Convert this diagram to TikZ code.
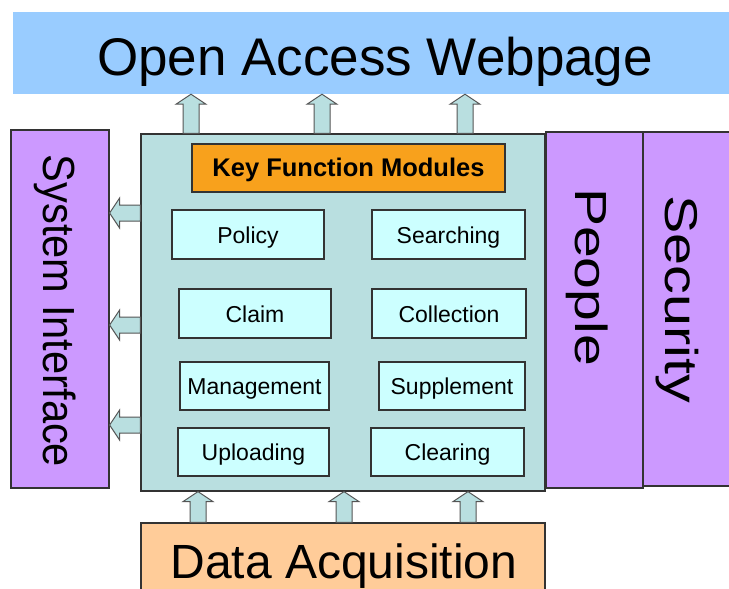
\documentclass[tikz,border=0pt]{standalone}
\usepackage{fontspec}
\setmainfont{Liberation Sans}
\usetikzlibrary{calc}
\definecolor{webblue}{HTML}{99CCFF}
\definecolor{violetbox}{HTML}{CC99FF}
\definecolor{tealbox}{HTML}{B9DFE0}
\definecolor{cyanbox}{HTML}{CCFFFF}
\definecolor{orangebox}{HTML}{F8A11C}
\definecolor{peachbox}{HTML}{FFCC99}
\definecolor{edgegray}{HTML}{333333}
\definecolor{arrowedge}{HTML}{555555}
\tikzset{
  box/.style={draw=edgegray, line width=1.2pt, inner sep=0pt, anchor=center},
  module/.style={box, fill=cyanbox, font=\fontsize{23}{26}\selectfont,
    text height=20.7pt, text depth=3.2pt},
  blockarrow/.style={draw=arrowedge, fill=tealbox, line width=1pt,
    to path={let \p1=(\tikztostart), \p2=(\tikztotarget),
      \n1={atan2(\y2-\y1,\x2-\x1)}, \n2={veclen(\x2-\x1,\y2-\y1)} in
      ([shift={(\p1)},rotate=\n1]0pt,-8pt)
      -- ([shift={(\p1)},rotate=\n1]{\n2-10pt},-8pt)
      -- ([shift={(\p1)},rotate=\n1]{\n2-10pt},-15pt)
      -- ([shift={(\p1)},rotate=\n1]{\n2},0pt)
      -- ([shift={(\p1)},rotate=\n1]{\n2-10pt},15pt)
      -- ([shift={(\p1)},rotate=\n1]{\n2-10pt},8pt)
      -- ([shift={(\p1)},rotate=\n1]0pt,8pt) -- cycle}}
}
\begin{document}
\begin{tikzpicture}[x=1pt,y=-1pt]
\useasboundingbox (0,0) rectangle (729,589);
% big blocks
\node[inner sep=0pt, fill=webblue, minimum width=720pt, minimum height=82pt] (web) at (373,53) {};
\node[inner sep=0pt, anchor=base, font=\fontsize{53}{60}\selectfont] (webtext) at (375,75) {Open Access Webpage};
\node[box, fill=violetbox, minimum width=98pt, minimum height=358pt] (sys) at (60,309) {};
\node[rotate=-90, inner sep=0pt, font=\fontsize{45}{50}\selectfont] (systext) at (55,311)
      {\scalebox{0.925}[1]{System Interface}};
\node[box, fill=tealbox, minimum width=404pt, minimum height=357pt] (main) at (343,312.5) {};
\node[box, fill=violetbox, minimum width=97pt, minimum height=356pt] (people) at (594.5,310) {};
\node[rotate=-90, inner sep=0pt, font=\fontsize{45}{50}\selectfont] (peopletext) at (587,277)
      {\scalebox{1.27}[1]{People}};
\node[box, fill=violetbox, minimum width=90pt, minimum height=354pt] (security) at (688,309) {};
\node[rotate=-90, inner sep=0pt, font=\fontsize{46}{50}\selectfont] (securitytext) at (677,299)
      {\scalebox{1.25}[1]{Security}};
\node[box, fill=peachbox, minimum width=404pt, minimum height=70pt] (data) at (343,558) {};
\node[inner sep=0pt, anchor=base, font=\fontsize{48}{54}\selectfont] (datatext) at (344,578) {Data Acquisition};
% key modules
\node[box, fill=orangebox, minimum width=313pt, minimum height=48pt,
      text height=22.4pt, text depth=5.1pt,
      font=\fontsize{25.5}{28}\selectfont\bfseries] (key) at (348.5,168) {Key Function Modules};
\node[module, minimum width=152pt, minimum height=49pt] (policy) at (248,234.5) {Policy};
\node[module, minimum width=153pt, minimum height=49pt] (searching) at (448.5,234.5) {Searching};
\node[module, minimum width=152pt, minimum height=49pt] (claim) at (255,313.5) {Claim};
\node[module, minimum width=154pt, minimum height=49pt] (collection) at (449,313.5) {Collection};
\node[module, minimum width=149pt, minimum height=48pt] (management) at (254.5,386) {Management};
\node[module, minimum width=146pt, minimum height=48pt] (supplement) at (452,386) {Supplement};
\node[module, minimum width=151pt, minimum height=48pt] (uploading) at (253.5,452) {Uploading};
\node[module, minimum width=153pt, minimum height=48pt] (clearing) at (447.5,452) {Clearing};
% arrow anchor coordinates
\coordinate (ta) at (191,0);
\coordinate (tb) at (322,0);
\coordinate (tc) at (465,0);
\coordinate (la) at (0,213);
\coordinate (lb) at (0,325);
\coordinate (lc) at (0,425);
\coordinate (ba) at (198,0);
\coordinate (bb) at (344,0);
\coordinate (bc) at (468,0);
\coordinate (ta1) at (ta |- main.north); \coordinate (ta2) at (ta |- web.south);
\coordinate (tb1) at (tb |- main.north); \coordinate (tb2) at (tb |- web.south);
\coordinate (tc1) at (tc |- main.north); \coordinate (tc2) at (tc |- web.south);
\coordinate (la1) at (main.west |- la); \coordinate (la2) at (sys.east |- la);
\coordinate (lb1) at (main.west |- lb); \coordinate (lb2) at (sys.east |- lb);
\coordinate (lc1) at (main.west |- lc); \coordinate (lc2) at (sys.east |- lc);
\coordinate (ba1) at (ba |- data.north); \coordinate (ba2) at (ba |- main.south);
\coordinate (bb1) at (bb |- data.north); \coordinate (bb2) at (bb |- main.south);
\coordinate (bc1) at (bc |- data.north); \coordinate (bc2) at (bc |- main.south);
% block arrows
\draw[blockarrow] (ta1) to (ta2);
\draw[blockarrow] (tb1) to (tb2);
\draw[blockarrow] (tc1) to (tc2);
\draw[blockarrow] (la1) to (la2);
\draw[blockarrow] (lb1) to (lb2);
\draw[blockarrow] (lc1) to (lc2);
\draw[blockarrow] (ba1) to (ba2);
\draw[blockarrow] (bb1) to (bb2);
\draw[blockarrow] (bc1) to (bc2);
\end{tikzpicture}
\end{document}
